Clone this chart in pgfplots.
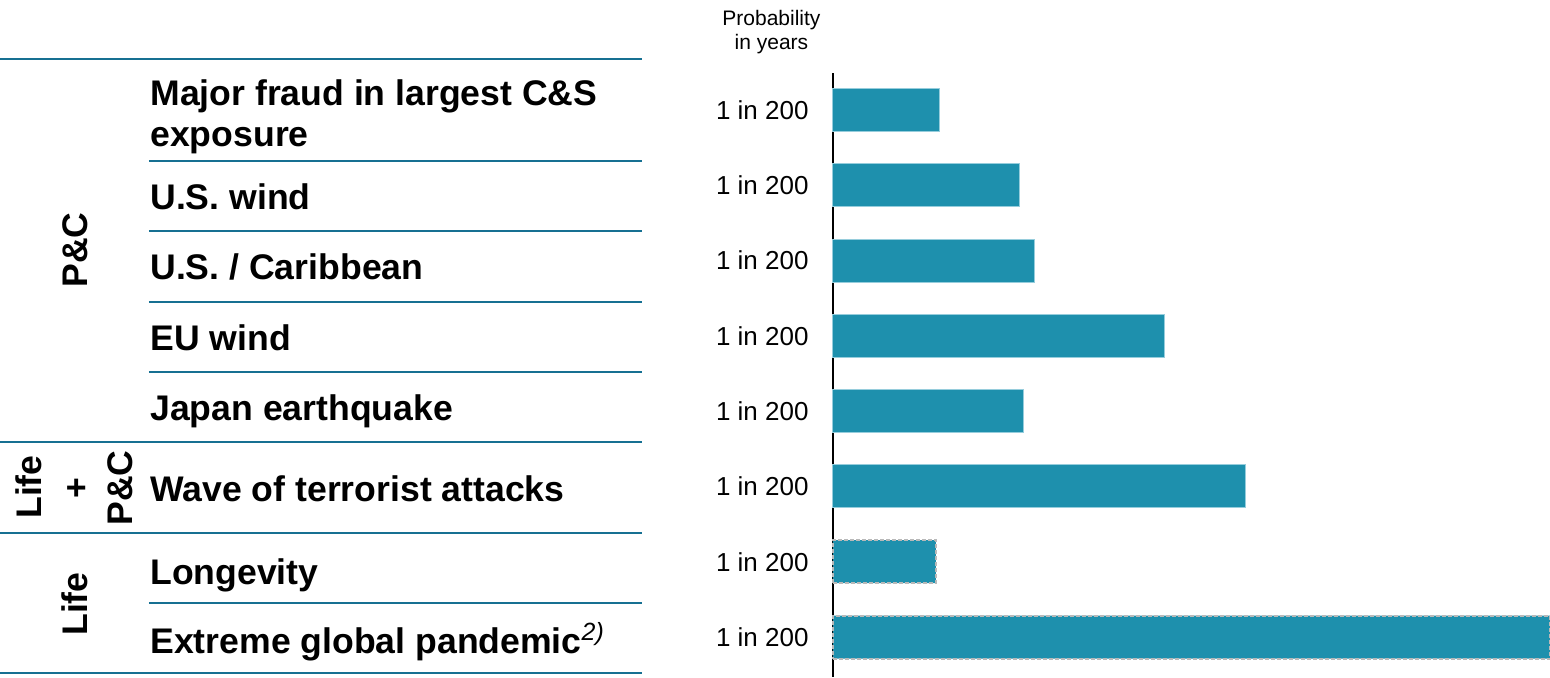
\documentclass[border=0pt]{standalone}
\usepackage{pgfplots}
\pgfplotsset{compat=1.18}
\usepackage{fontspec}
\setmainfont{Liberation Sans}
\definecolor{barc}{RGB}{30,144,173}
\definecolor{barl}{RGB}{150,205,220}
\definecolor{linec}{RGB}{22,112,146}
\definecolor{dashc}{RGB}{185,185,185}
\newcommand{\lab}{\fontsize{17.8}{21}\selectfont\bfseries}
\begin{document}
\begin{tikzpicture}
\begin{axis}[
  scale only axis, width=358.5pt, height=302pt,
  xmin=0, xmax=717, ymin=73, ymax=677, y dir=reverse,
  axis x line=none, axis y line*=left,
  y axis line style={-, black, line width=0.6pt},
  ytick={110,185.3,260.6,335.9,411.1,486.4,561.7,637},
  yticklabels={1 in 200,1 in 200,1 in 200,1 in 200,1 in 200,1 in 200,1 in 200,1 in 200},
  major tick length=0pt,
  yticklabel style={font=\fontsize{13}{15}\selectfont, inner sep=0pt, xshift=-12pt},
  clip=false,
]
\addplot[xbar, bar shift=0pt, bar width=21.5pt, fill=barc, draw=barl, line width=0.5pt]
  coordinates {(107,110) (187,185.3) (202,260.6) (332,335.9) (191,411.1) (412,486.4)};
\addplot[xbar, bar shift=0pt, bar width=21.5pt, fill=barc, draw=dashc, line width=1pt, dash pattern=on 2pt off 1pt]
  coordinates {(103,561.7) (717,637)};

% header
\node[anchor=base, inner sep=0pt, font=\fontsize{10.5}{12.5}\selectfont] at (axis cs:-61.5,25) {Probability};
\node[anchor=base, inner sep=0pt, font=\fontsize{10.5}{12.5}\selectfont] at (axis cs:-61.5,49.5) {in years};

% table lines
\draw[linec, line width=1.4pt] (axis cs:-833,59) -- (axis cs:-191,59);
\draw[linec, line width=1.4pt] (axis cs:-833,442) -- (axis cs:-191,442);
\draw[linec, line width=1.4pt] (axis cs:-833,533) -- (axis cs:-191,533);
\draw[linec, line width=1.4pt] (axis cs:-833,673) -- (axis cs:-191,673);
\draw[linec, line width=1.4pt] (axis cs:-684,161) -- (axis cs:-191,161);
\draw[linec, line width=1.4pt] (axis cs:-684,231) -- (axis cs:-191,231);
\draw[linec, line width=1.4pt] (axis cs:-684,302) -- (axis cs:-191,302);
\draw[linec, line width=1.4pt] (axis cs:-684,372) -- (axis cs:-191,372);
\draw[linec, line width=1.4pt] (axis cs:-684,603) -- (axis cs:-191,603);

% row labels
\node[anchor=base west, inner sep=0pt, font=\lab] at (axis cs:-683,105) {Major fraud in largest C\&S};
\node[anchor=base west, inner sep=0pt, font=\lab] at (axis cs:-683,146.5) {exposure};
\node[anchor=base west, inner sep=0pt, font=\lab] at (axis cs:-683,209) {U.S. wind};
\node[anchor=base west, inner sep=0pt, font=\lab] at (axis cs:-683,279.5) {U.S. / Caribbean};
\node[anchor=base west, inner sep=0pt, font=\lab] at (axis cs:-683,350) {EU wind};
\node[anchor=base west, inner sep=0pt, font=\lab] at (axis cs:-683,420) {Japan earthquake};
\node[anchor=base west, inner sep=0pt, font=\lab] at (axis cs:-683,501) {Wave of terrorist attacks};
\node[anchor=base west, inner sep=0pt, font=\lab] at (axis cs:-683,584) {Longevity};
\node[anchor=base west, inner sep=0pt, font=\lab] at (axis cs:-683,653.5) {Extreme global pandemic\textsuperscript{\normalfont\itshape 2)}};

% group labels
\node[rotate=90, inner sep=0pt, font=\lab] at (axis cs:-758,250) {P\&C};
\node[rotate=90, inner sep=0pt, font=\lab] at (axis cs:-804,487) {Life};
\node[rotate=90, inner sep=0pt, font=\lab] at (axis cs:-755,488) {+};
\node[rotate=90, inner sep=0pt, font=\lab] at (axis cs:-713,488) {P\&C};
\node[rotate=90, inner sep=0pt, font=\lab] at (axis cs:-758,604) {Life};

\coordinate (BL) at (axis cs:-833,677);
\coordinate (TR) at (axis cs:717,0);
\end{axis}
\pgfresetboundingbox
\path (BL) rectangle (TR);
\end{tikzpicture}
\end{document}
